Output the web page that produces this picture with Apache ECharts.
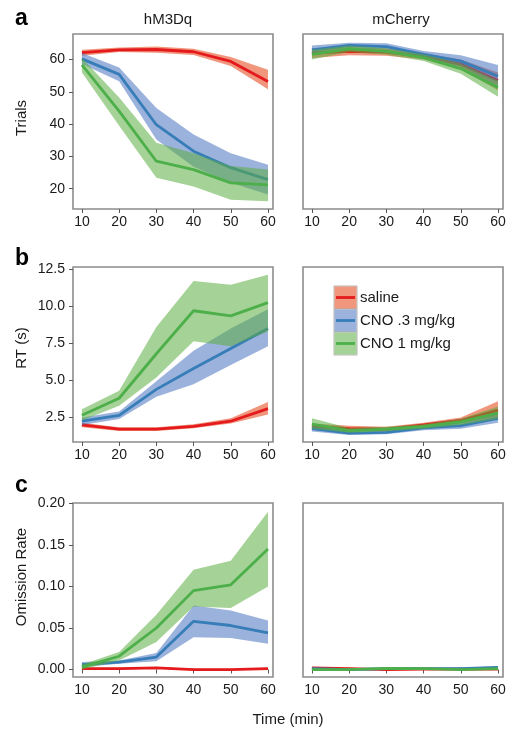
<!DOCTYPE html>
<html>
<head>
<meta charset="utf-8">
<title>Trials / RT / Omission</title>
<script src="https://cdn.jsdelivr.net/npm/echarts@6/dist/echarts.min.js"></script>
<style>
  html, body { margin: 0; padding: 0; background: #fff; }
  #chart { width: 510px; height: 730px; }
</style>
</head>
<body>
<div id="chart"></div>
<script>
// time points (min)
const times = [10, 20, 30, 40, 50, 60];
const xTicks = [10, 20, 30, 40, 50, 60];
const trialsTicks = [20, 30, 40, 50, 60];
const rtTicks = [2.5, 5, 7.5, 10, 12.5];
const omissionTicks = [0, 0.05, 0.1, 0.15, 0.2];
const groupNames = ['saline', 'CNO .3 mg/kg', 'CNO 1 mg/kg'];

// a - Trials, hM3Dq
const trialsHmSaline   = [62.1, 63.0, 63.1, 62.4, 59.4, 53.2];
const trialsHmSalineLo = [61.2, 62.3, 62.1, 61.4, 58.0, 50.8];
const trialsHmSalineHi = [63.0, 63.7, 64.0, 63.3, 60.8, 56.8];
const trialsHmLow      = [60.2, 55.4, 39.8, 31.6, 26.5, 22.8];
const trialsHmLowLo    = [58.6, 53.3, 35.2, 26.8, 21.8, 18.2];
const trialsHmLowHi    = [62.0, 57.5, 45.0, 36.8, 31.0, 27.4];
const trialsHmHigh     = [58.3, 44.0, 28.5, 25.9, 21.8, 21.2];
const trialsHmHighLo   = [56.0, 39.5, 23.4, 20.7, 16.6, 16.1];
const trialsHmHighHi   = [60.5, 48.2, 34.2, 31.0, 27.0, 25.9];

// a - Trials, mCherry
const trialsMcSaline   = [62.0, 62.5, 62.3, 61.0, 58.5, 53.5];
const trialsMcSalineLo = [60.5, 61.3, 61.2, 60.0, 57.0, 50.5];
const trialsMcSalineHi = [63.5, 63.8, 63.4, 62.0, 60.0, 56.0];
const trialsMcLow      = [63.0, 64.4, 64.0, 61.6, 59.5, 54.8];
const trialsMcLowLo    = [62.0, 63.5, 63.0, 60.6, 57.8, 51.5];
const trialsMcLowHi    = [64.3, 65.2, 65.0, 62.6, 61.3, 58.3];
const trialsMcHigh     = [61.6, 63.3, 62.5, 60.6, 57.2, 51.3];
const trialsMcHighLo   = [60.0, 62.3, 61.5, 59.5, 55.6, 48.5];
const trialsMcHighHi   = [63.0, 64.3, 63.5, 61.6, 58.8, 53.5];

// b - RT (s), hM3Dq
const rtHmSaline   = [2.0, 1.72, 1.72, 1.9, 2.25, 3.1];
const rtHmSalineLo = [1.85, 1.6, 1.6, 1.78, 2.1, 2.7];
const rtHmSalineHi = [2.15, 1.85, 1.85, 2.05, 2.45, 3.55];
const rtHmLow      = [2.25, 2.65, 4.4, 5.8, 7.15, 8.5];
const rtHmLowLo    = [2.0, 2.4, 3.9, 4.75, 6.05, 7.3];
const rtHmLowHi    = [2.5, 2.9, 4.95, 7.0, 8.5, 9.8];
const rtHmHigh     = [2.65, 3.8, 6.8, 9.7, 9.35, 10.25];
const rtHmHighLo   = [2.3, 3.3, 5.2, 7.65, 7.3, 8.3];
const rtHmHighHi   = [3.05, 4.3, 8.6, 11.7, 11.45, 12.13];

// b - RT (s), mCherry
const rtMcSaline   = [1.9, 1.75, 1.72, 2.0, 2.3, 3.0];
const rtMcSalineLo = [1.7, 1.6, 1.58, 1.85, 2.1, 2.55];
const rtMcSalineHi = [2.1, 1.95, 1.87, 2.15, 2.5, 3.6];
const rtMcLow      = [1.75, 1.45, 1.5, 1.8, 1.95, 2.45];
const rtMcLowLo    = [1.55, 1.32, 1.37, 1.65, 1.75, 2.15];
const rtMcLowHi    = [1.95, 1.6, 1.65, 1.95, 2.15, 2.8];
const rtMcHigh     = [2.05, 1.62, 1.72, 1.9, 2.2, 2.8];
const rtMcHighLo   = [1.75, 1.47, 1.57, 1.75, 2.0, 2.4];
const rtMcHighHi   = [2.45, 1.8, 1.87, 2.05, 2.42, 3.25];

// c - Omission rate, hM3Dq
const omHmSaline   = [0.001, 0.001, 0.002, 0.0, 0.0, 0.001];
const omHmSalineLo = [0.0, 0.0, 0.001, 0.0, 0.0, 0.0];
const omHmSalineHi = [0.002, 0.002, 0.003, 0.001, 0.001, 0.002];
const omHmLow      = [0.006, 0.009, 0.015, 0.058, 0.053, 0.044];
const omHmLowLo    = [0.003, 0.007, 0.010, 0.039, 0.038, 0.031];
const omHmLowHi    = [0.009, 0.011, 0.020, 0.077, 0.071, 0.059];
const omHmHigh     = [0.003, 0.016, 0.050, 0.095, 0.102, 0.145];
const omHmHighLo   = [0.0, 0.011, 0.033, 0.076, 0.074, 0.100];
const omHmHighHi   = [0.006, 0.021, 0.066, 0.120, 0.131, 0.190];

// c - Omission rate, mCherry
const omMcSaline   = [0.002, 0.001, 0.0, 0.0005, 0.0005, 0.0005];
const omMcSalineLo = [0.001, 0.0, 0.0, 0.0, 0.0, 0.0];
const omMcSalineHi = [0.003, 0.002, 0.001, 0.001, 0.001, 0.001];
const omMcLow      = [0.001, 0.0, 0.001, 0.001, 0.001, 0.0025];
const omMcLowLo    = [0.0, 0.0, 0.0, 0.0, 0.0, 0.001];
const omMcLowHi    = [0.002, 0.001, 0.002, 0.002, 0.002, 0.004];
const omMcHigh     = [0.0, 0.0, 0.0015, 0.001, 0.0, 0.001];
const omMcHighLo   = [0.0, 0.0, 0.0005, 0.0, 0.0, 0.0];
const omMcHighHi   = [0.001, 0.001, 0.0025, 0.002, 0.001, 0.002];

const lineColors = ['#E41A1C', '#377EB8', '#4DAF4A'];
const bandColors = ['rgba(228,64,19,0.55)', 'rgba(73,115,191,0.55)', 'rgba(91,173,64,0.55)'];
const FONT = '"Liberation Sans", Arial, Helvetica, sans-serif';

// per panel: [mean, lo, hi] for each group
const panels = [
  [[trialsHmSaline, trialsHmSalineLo, trialsHmSalineHi], [trialsHmLow, trialsHmLowLo, trialsHmLowHi], [trialsHmHigh, trialsHmHighLo, trialsHmHighHi]],
  [[trialsMcSaline, trialsMcSalineLo, trialsMcSalineHi], [trialsMcLow, trialsMcLowLo, trialsMcLowHi], [trialsMcHigh, trialsMcHighLo, trialsMcHighHi]],
  [[rtHmSaline, rtHmSalineLo, rtHmSalineHi], [rtHmLow, rtHmLowLo, rtHmLowHi], [rtHmHigh, rtHmHighLo, rtHmHighHi]],
  [[rtMcSaline, rtMcSalineLo, rtMcSalineHi], [rtMcLow, rtMcLowLo, rtMcLowHi], [rtMcHigh, rtMcHighLo, rtMcHighHi]],
  [[omHmSaline, omHmSalineLo, omHmSalineHi], [omHmLow, omHmLowLo, omHmLowHi], [omHmHigh, omHmHighLo, omHmHighHi]],
  [[omMcSaline, omMcSalineLo, omMcSalineHi], [omMcLow, omMcLowLo, omMcLowHi], [omMcHigh, omMcHighLo, omMcHighHi]]
];

const gridTops = [34, 34, 267, 267, 503, 503];
const gridHeights = [175, 175, 175, 175, 174, 174];
const yRanges = [[13.7, 67.9], [13.7, 67.9], [0.85, 12.65], [0.85, 12.65], [-0.009, 0.2005], [-0.009, 0.2005]];
const yTickSets = [trialsTicks, trialsTicks, rtTicks, rtTicks, omissionTicks, omissionTicks];
const yDigits = [0, 0, 1, 1, 2, 2];

// ribbon drawn as one polygon through the axis scales
function ribbonRenderer(lo, hi, color) {
  return function (params, api) {
    if (params.dataIndex !== 0) return null;
    const top = times.map((t, j) => api.coord([t, hi[j]]));
    const bottom = times.map((t, j) => api.coord([t, lo[j]])).reverse();
    const cs = params.coordSys;
    return {
      type: 'polygon',
      shape: { points: top.concat(bottom) },
      style: { fill: color },
      clipPath: { type: 'rect', shape: { x: cs.x, y: cs.y, width: cs.width, height: cs.height } }
    };
  };
}

const grids = [], xAxes = [], yAxes = [], series = [];
for (let i = 0; i < 6; i++) {
  const isLeft = i % 2 === 0;
  grids.push({
    left: isLeft ? 73 : 303, top: gridTops[i], width: 200, height: gridHeights[i],
    show: true, borderColor: '#8c8c8c', borderWidth: 1.6, backgroundColor: '#fff'
  });
  xAxes.push({
    type: 'value', gridIndex: i, min: 7.6, max: 61.35,
    axisLine: { show: false },
    axisTick: { show: true, customValues: xTicks, length: 4, lineStyle: { color: '#555', width: 1 } },
    axisLabel: { customValues: xTicks, fontSize: 14, color: '#1a1a1a', margin: 6, fontFamily: FONT },
    splitLine: { show: false }
  });
  const d = yDigits[i];
  yAxes.push({
    type: 'value', gridIndex: i, min: yRanges[i][0], max: yRanges[i][1],
    axisLine: { show: false },
    axisTick: { show: isLeft, customValues: yTickSets[i], length: 4, lineStyle: { color: '#555', width: 1 } },
    axisLabel: { show: isLeft, customValues: yTickSets[i], fontSize: 14, color: '#1a1a1a', margin: 8, fontFamily: FONT,
                 formatter: v => v.toFixed(d) },
    splitLine: { show: false }
  });

  panels[i].forEach((g, k) => {
    const [mean, lo, hi] = g;
    const z = 2 + k * 2;
    series.push({
      type: 'custom', xAxisIndex: i, yAxisIndex: i, silent: true, z: z, animation: false,
      data: times.map((t, j) => [t, lo[j], hi[j]]),
      encode: { x: 0, y: [1, 2] },
      renderItem: ribbonRenderer(lo, hi, bandColors[k])
    });
    series.push({
      type: 'line', name: groupNames[k], xAxisIndex: i, yAxisIndex: i, silent: true,
      data: times.map((t, j) => [t, mean[j]]),
      symbol: 'none', lineStyle: { color: lineColors[k], width: 2.8 }, z: z + 1, animation: false
    });
  });
}

function txt(x, y, text, size, opts) {
  opts = opts || {};
  return {
    type: 'text', x: x, y: y, z: 100, rotation: opts.rotation || 0,
    style: Object.assign({ text: text, fontSize: size, fontFamily: FONT, fill: '#1a1a1a',
                           textAlign: 'center', textVerticalAlign: 'middle' }, opts.style || {})
  };
}

const graphics = [
  txt(15, 19, 'a', 23, { style: { fontWeight: 'bold', textAlign: 'left', fill: '#000' } }),
  txt(15, 259, 'b', 23, { style: { fontWeight: 'bold', textAlign: 'left', fill: '#000' } }),
  txt(15, 486, 'c', 23, { style: { fontWeight: 'bold', textAlign: 'left', fill: '#000' } }),
  txt(168, 20, 'hM3Dq', 15),
  txt(401, 20, 'mCherry', 15),
  txt(22, 118, 'Trials', 15, { rotation: Math.PI / 2 }),
  txt(22, 348, 'RT (s)', 15, { rotation: Math.PI / 2 }),
  txt(22, 577, 'Omission Rate', 15, { rotation: Math.PI / 2 }),
  txt(288, 720, 'Time (min)', 15)
];

// legend keys
const legendTop = 286, keySize = 23;
groupNames.forEach((name, k) => {
  const y0 = legendTop + k * keySize;
  graphics.push({ type: 'rect', z: 100, shape: { x: 334, y: y0, width: keySize, height: keySize },
                  style: { fill: '#fff', stroke: '#b5b5b5', lineWidth: 1 } });
  graphics.push({ type: 'rect', z: 101, shape: { x: 334.5, y: y0 + 0.5, width: keySize - 1, height: keySize - 1 },
                  style: { fill: bandColors[k] } });
  graphics.push({ type: 'line', z: 102, shape: { x1: 336, y1: y0 + keySize / 2, x2: 355, y2: y0 + keySize / 2 },
                  style: { stroke: lineColors[k], lineWidth: 2.8 } });
  graphics.push(txt(360, y0 + keySize / 2, name, 15, { style: { textAlign: 'left' } }));
});

const chart = echarts.init(document.getElementById('chart'), null, { renderer: 'canvas' });
chart.setOption({
  backgroundColor: '#fff',
  animation: false,
  grid: grids,
  xAxis: xAxes,
  yAxis: yAxes,
  series: series,
  graphic: graphics
});
</script>
</body>
</html>
